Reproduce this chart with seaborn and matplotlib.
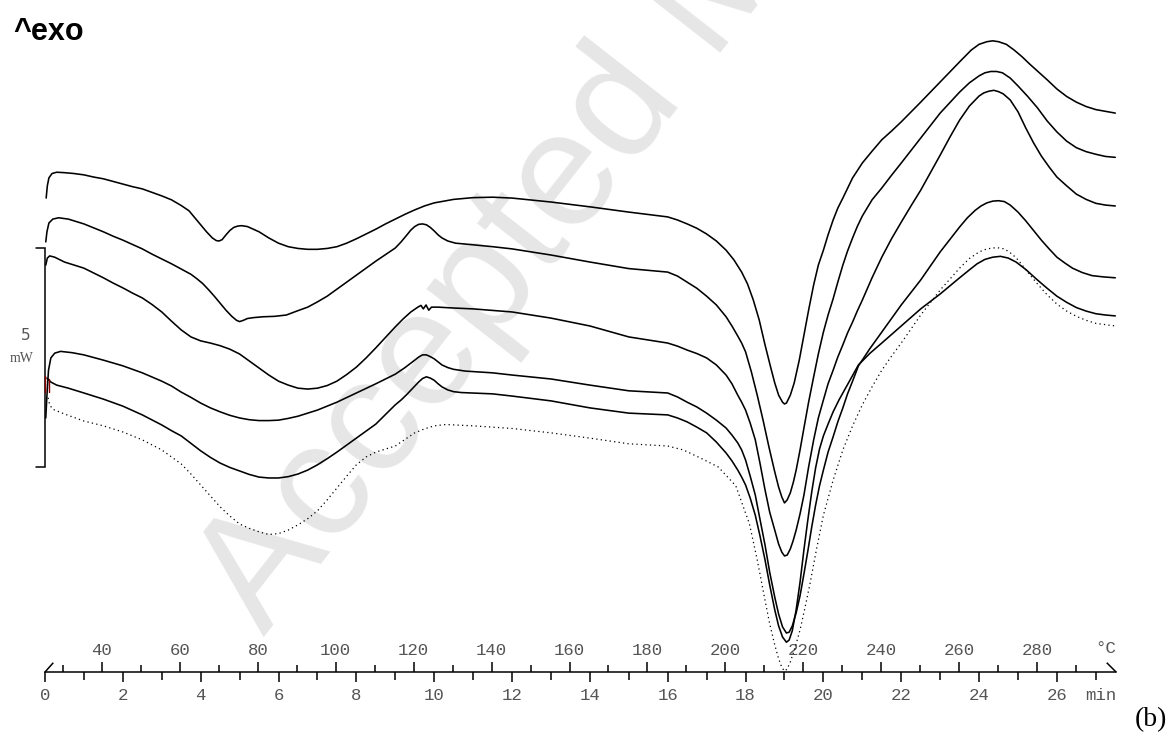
import numpy as np
import pandas as pd
import matplotlib
matplotlib.use("Agg")
import matplotlib.pyplot as plt
from matplotlib.ticker import FixedLocator
import seaborn as sns

# ---------------------------------------------------------------- data
# DSC heat-flow traces (mW, stacked with offsets) against time (min)
t_1 = [0.03, 0.06, 0.10, 0.18, 0.30, 0.50, 0.75, 1.0, 1.25, 1.5, 1.75, 2.0, 2.25, 2.5,
       2.75, 3.0, 3.25, 3.5, 3.7, 3.85, 4.0, 4.15, 4.3, 4.4, 4.47, 4.55, 4.65, 4.75,
       4.85, 4.95, 5.05, 5.2, 5.35, 5.5, 5.75, 6.0, 6.25, 6.5, 6.75, 7.0, 7.25, 7.5,
       7.75, 8.0, 8.25, 8.5, 8.75, 9.0, 9.25, 9.5, 9.75, 10.0, 10.25, 10.5, 11.0,
       11.5, 12.0, 13.0, 14.0, 15.0, 16.0, 16.25, 16.5, 16.75, 17.0, 17.25, 17.5,
       17.7, 17.9, 18.05, 18.2, 18.35, 18.5, 18.65, 18.75, 18.85, 18.95, 19.0, 19.05,
       19.15, 19.25, 19.38, 19.5, 19.62, 19.75, 19.87, 20.0, 20.12, 20.25, 20.37,
       20.5, 20.75, 21.0, 21.25, 21.5, 21.75, 22.0, 22.5, 23.0, 23.5, 23.8, 24.0,
       24.2, 24.35, 24.5, 24.7, 24.9, 25.1, 25.3, 25.5, 25.75, 26.0, 26.25, 26.5,
       26.75, 27.0, 27.25, 27.5]
hf_1 = [10.82, 11.10, 11.28, 11.38, 11.41, 11.40, 11.38, 11.35, 11.30, 11.26, 11.20,
        11.14, 11.08, 11.03, 10.95, 10.87, 10.78, 10.65, 10.53, 10.37, 10.21, 10.05,
        9.91, 9.85, 9.84, 9.87, 9.98, 10.08, 10.15, 10.18, 10.19, 10.17, 10.11, 10.05,
        9.91, 9.79, 9.71, 9.67, 9.65, 9.65, 9.67, 9.71, 9.79, 9.89, 10.00, 10.11,
        10.23, 10.34, 10.45, 10.55, 10.64, 10.71, 10.75, 10.79, 10.83, 10.84, 10.82,
        10.73, 10.62, 10.50, 10.39, 10.32, 10.23, 10.13, 10.00, 9.84, 9.63, 9.41,
        9.13, 8.86, 8.49, 8.04, 7.47, 6.94, 6.60, 6.32, 6.16, 6.12, 6.14, 6.32, 6.60,
        7.12, 7.69, 8.26, 8.84, 9.29, 9.63, 9.98, 10.32, 10.59, 10.82, 11.28, 11.62,
        11.89, 12.15, 12.35, 12.56, 13.01, 13.47, 13.93, 14.20, 14.33, 14.39, 14.41,
        14.39, 14.33, 14.20, 14.05, 13.88, 13.72, 13.52, 13.31, 13.14, 13.01, 12.91,
        12.84, 12.80, 12.76]

t_2 = [0.02, 0.05, 0.10, 0.20, 0.35, 0.60, 1.0, 1.25, 1.5, 1.75, 2.0, 2.25, 2.5, 2.75,
       3.0, 3.25, 3.5, 3.75, 3.9, 4.05, 4.2, 4.35, 4.5, 4.65, 4.8, 4.92, 5.0, 5.1,
       5.2, 5.35, 5.6, 5.9, 6.2, 6.5, 6.75, 7.0, 7.25, 7.5, 7.75, 8.0, 8.25, 8.5,
       8.75, 9.0, 9.15, 9.3, 9.4, 9.5, 9.6, 9.7, 9.8, 9.9, 10.0, 10.1, 10.2, 10.35,
       10.55, 10.8, 11.5, 12.0, 13.0, 14.0, 15.0, 16.0, 16.25, 16.5, 16.75, 17.0,
       17.25, 17.5, 17.65, 17.8, 17.9, 18.0, 18.15, 18.3, 18.45, 18.6, 18.75, 18.85,
       18.93, 19.0, 19.07, 19.15, 19.23, 19.3, 19.4, 19.5, 19.62, 19.75, 19.87, 20.0,
       20.12, 20.25, 20.37, 20.5, 20.62, 20.75, 20.87, 21.0, 21.25, 21.5, 21.75, 22.0,
       22.5, 23.0, 23.5, 23.75, 24.0, 24.15, 24.3, 24.45, 24.6, 24.8, 25.0, 25.25,
       25.5, 25.75, 26.0, 26.25, 26.5, 26.75, 27.0, 27.25, 27.5]
hf_2 = [9.82, 10.05, 10.25, 10.34, 10.37, 10.34, 10.23, 10.14, 10.05, 9.95, 9.86, 9.76,
        9.66, 9.54, 9.43, 9.32, 9.20, 9.08, 8.98, 8.87, 8.73, 8.58, 8.42, 8.26, 8.12,
        8.03, 8.00, 8.03, 8.07, 8.09, 8.11, 8.12, 8.15, 8.25, 8.33, 8.45, 8.58, 8.74,
        8.90, 9.06, 9.22, 9.38, 9.53, 9.68, 9.82, 9.98, 10.09, 10.17, 10.22, 10.23,
        10.21, 10.15, 10.07, 9.98, 9.91, 9.84, 9.79, 9.77, 9.71, 9.66, 9.52, 9.36,
        9.21, 9.13, 9.04, 8.90, 8.76, 8.58, 8.38, 8.11, 7.90, 7.67, 7.51, 7.31, 6.85,
        6.32, 5.75, 5.14, 4.57, 4.22, 4.00, 3.86, 3.93, 4.09, 4.34, 4.61, 5.07, 5.57,
        6.16, 6.74, 7.26, 7.76, 8.15, 8.52, 8.90, 9.29, 9.61, 9.91, 10.17, 10.41,
        10.78, 11.05, 11.34, 11.62, 12.19, 12.76, 13.24, 13.45, 13.61, 13.68, 13.71,
        13.71, 13.68, 13.56, 13.38, 13.14, 12.88, 12.58, 12.33, 12.12, 11.97, 11.88,
        11.82, 11.77, 11.75]

t_3 = [0.02, 0.06, 0.12, 0.25, 0.5, 0.75, 1.0, 1.25, 1.5, 1.75, 2.0, 2.25, 2.5, 2.75,
       3.0, 3.25, 3.5, 3.75, 4.0, 4.25, 4.5, 4.75, 5.0, 5.25, 5.5, 5.75, 6.0, 6.25,
       6.5, 6.75, 7.0, 7.25, 7.5, 7.75, 8.0, 8.25, 8.5, 8.75, 9.0, 9.2, 9.4, 9.58,
       9.66, 9.72, 9.79, 9.86, 9.93, 10.1, 10.5, 11.0, 12.0, 13.0, 14.0, 15.0, 16.0,
       16.25, 16.5, 16.75, 17.0, 17.25, 17.5, 17.65, 17.8, 17.9, 18.0, 18.12, 18.25,
       18.37, 18.5, 18.62, 18.75, 18.85, 18.93, 19.0, 19.07, 19.15, 19.22, 19.3,
       19.4, 19.5, 19.62, 19.75, 19.87, 20.0, 20.12, 20.25, 20.37, 20.5, 20.62,
       20.75, 20.87, 21.0, 21.25, 21.5, 21.75, 22.0, 22.25, 22.5, 22.75, 23.0, 23.25,
       23.5, 23.75, 24.0, 24.12, 24.25, 24.38, 24.5, 24.62, 24.8, 25.0, 25.2, 25.4,
       25.6, 25.8, 26.0, 26.25, 26.5, 26.75, 27.0, 27.25, 27.5]
hf_3 = [9.29, 9.45, 9.50, 9.47, 9.36, 9.29, 9.22, 9.11, 9.00, 8.88, 8.77, 8.65, 8.54,
        8.39, 8.22, 8.01, 7.81, 7.65, 7.56, 7.51, 7.45, 7.37, 7.26, 7.10, 6.94, 6.78,
        6.64, 6.55, 6.48, 6.46, 6.48, 6.54, 6.64, 6.79, 6.96, 7.17, 7.40, 7.64, 7.88,
        8.06, 8.22, 8.33, 8.37, 8.29, 8.38, 8.26, 8.33, 8.33, 8.31, 8.29, 8.22, 8.08,
        7.90, 7.65, 7.51, 7.44, 7.35, 7.27, 7.17, 7.01, 6.78, 6.58, 6.32, 6.16, 5.98,
        5.68, 5.30, 4.77, 4.16, 3.65, 3.24, 2.92, 2.74, 2.65, 2.67, 2.81, 2.99, 3.24,
        3.61, 4.04, 4.68, 5.30, 5.80, 6.21, 6.58, 6.89, 7.19, 7.47, 7.74, 7.99, 8.24,
        8.49, 9.00, 9.47, 9.89, 10.27, 10.64, 11.00, 11.40, 11.80, 12.21, 12.60, 12.92,
        13.15, 13.22, 13.26, 13.28, 13.25, 13.20, 13.06, 12.79, 12.42, 12.08, 11.78,
        11.53, 11.30, 11.10, 10.91, 10.79, 10.70, 10.66, 10.64]

t_4 = [0.02, 0.05, 0.09, 0.15, 0.25, 0.4, 0.7, 1.0, 1.5, 2.0, 2.5, 3.0, 3.25, 3.5,
       3.75, 4.0, 4.25, 4.5, 4.75, 5.0, 5.25, 5.5, 5.75, 6.0, 6.25, 6.5, 6.75, 7.0,
       7.5, 8.0, 8.5, 9.0, 9.25, 9.5, 9.6, 9.7, 9.8, 9.9, 10.0, 10.1, 10.2, 10.35,
       10.5, 10.8, 11.5, 12.0, 13.0, 14.0, 15.0, 16.0, 16.25, 16.5, 16.75, 17.0,
       17.25, 17.5, 17.65, 17.8, 17.9, 18.0, 18.12, 18.25, 18.37, 18.5, 18.62, 18.75,
       18.85, 18.95, 19.05, 19.12, 19.2, 19.3, 19.4, 19.5, 19.6, 19.7, 19.8, 19.9,
       20.0, 20.12, 20.25, 20.37, 20.5, 20.62, 20.75, 20.9, 21.05, 21.2, 21.5, 22.0,
       22.5, 23.0, 23.5, 23.7, 23.9, 24.05, 24.2, 24.35, 24.5, 24.65, 24.8, 25.0,
       25.2, 25.4, 25.6, 25.8, 26.0, 26.2, 26.4, 26.65, 26.9, 27.2, 27.5]
hf_4 = [5.80, 6.32, 6.89, 7.17, 7.28, 7.32, 7.29, 7.24, 7.12, 6.99, 6.83, 6.64, 6.53,
        6.39, 6.27, 6.14, 6.03, 5.94, 5.86, 5.80, 5.76, 5.74, 5.74, 5.75, 5.79, 5.84,
        5.91, 5.98, 6.16, 6.37, 6.58, 6.80, 6.95, 7.12, 7.19, 7.24, 7.24, 7.20, 7.15,
        7.08, 7.01, 6.95, 6.91, 6.87, 6.83, 6.78, 6.69, 6.55, 6.42, 6.37, 6.28, 6.16,
        6.05, 5.91, 5.75, 5.57, 5.41, 5.23, 5.07, 4.84, 4.47, 4.04, 3.49, 2.90, 2.28,
        1.71, 1.32, 1.03, 0.89, 0.91, 1.05, 1.35, 1.74, 2.24, 2.76, 3.31, 3.81, 4.25,
        4.61, 5.02, 5.37, 5.71, 6.03, 6.35, 6.64, 6.99, 7.19, 7.39, 7.76, 8.38, 8.95,
        9.59, 10.16, 10.37, 10.54, 10.64, 10.71, 10.75, 10.76, 10.74, 10.66, 10.50,
        10.30, 10.08, 9.86, 9.66, 9.47, 9.34, 9.22, 9.12, 9.05, 9.02, 9.00]

t_5 = [0.05, 0.15, 0.3, 0.6, 1.0, 1.5, 2.0, 2.5, 3.0, 3.25, 3.5, 3.75, 4.0, 4.25, 4.5,
       4.75, 5.0, 5.25, 5.5, 5.75, 6.0, 6.25, 6.5, 6.75, 7.0, 7.25, 7.5, 8.0, 8.5,
       9.0, 9.15, 9.3, 9.45, 9.6, 9.7, 9.8, 9.9, 10.0, 10.1, 10.2, 10.35, 10.5, 10.7,
       11.5, 12.0, 13.0, 14.0, 15.0, 16.0, 16.25, 16.5, 16.75, 17.0, 17.25, 17.5,
       17.65, 17.8, 17.9, 18.0, 18.12, 18.25, 18.37, 18.5, 18.62, 18.75, 18.85, 18.95,
       19.05, 19.12, 19.2, 19.3, 19.4, 19.5, 19.6, 19.7, 19.8, 19.9, 20.0, 20.12,
       20.25, 20.4, 20.6, 20.75, 20.9, 21.2, 21.5, 22.0, 22.5, 23.0, 23.5, 23.75,
       23.95, 24.15, 24.35, 24.55, 24.75, 24.95, 25.2, 25.5, 25.75, 26.0, 26.25, 26.5,
       26.75, 27.0, 27.25, 27.5]
hf_5 = [6.71, 6.62, 6.55, 6.48, 6.37, 6.23, 6.07, 5.87, 5.64, 5.51, 5.39, 5.22, 5.05,
        4.90, 4.77, 4.67, 4.59, 4.51, 4.45, 4.43, 4.43, 4.46, 4.52, 4.61, 4.73, 4.87,
        5.02, 5.34, 5.66, 6.10, 6.21, 6.34, 6.48, 6.62, 6.70, 6.74, 6.71, 6.66, 6.58,
        6.51, 6.44, 6.40, 6.38, 6.35, 6.30, 6.19, 6.03, 5.91, 5.87, 5.80, 5.71, 5.59,
        5.46, 5.25, 5.00, 4.82, 4.61, 4.45, 4.27, 3.97, 3.58, 3.11, 2.56, 1.99, 1.42,
        1.05, 0.80, 0.68, 0.73, 0.94, 1.42, 2.05, 2.79, 3.47, 4.11, 4.66, 5.09, 5.39,
        5.66, 5.94, 6.21, 6.53, 6.77, 7.01, 7.28, 7.51, 7.90, 8.29, 8.63, 9.00, 9.18,
        9.32, 9.42, 9.47, 9.49, 9.45, 9.36, 9.19, 8.95, 8.76, 8.58, 8.44, 8.32, 8.24,
        8.18, 8.15, 8.13]

t_ref = [0.08, 0.12, 0.2, 0.5, 1.0, 1.5, 2.0, 2.5, 3.0, 3.5, 3.75, 4.0, 4.25, 4.5, 4.75,
         5.0, 5.25, 5.5, 5.75, 6.0, 6.25, 6.5, 6.75, 7.0, 7.25, 7.5, 7.75, 8.0, 8.25,
         8.5, 9.0, 9.5, 9.75, 10.0, 10.3, 11.0, 12.0, 13.0, 14.0, 15.0, 16.0, 16.4,
         16.9, 17.3, 17.75, 18.1, 18.3, 18.5, 18.62, 18.75, 18.85, 18.93, 19.0, 19.07,
         19.15, 19.27, 19.4, 19.52, 19.65, 19.82, 20.0, 20.25, 20.5, 20.75, 21.0,
         21.25, 21.5, 21.75, 22.0, 22.5, 23.0, 23.5, 23.75, 24.0, 24.2, 24.45, 24.65,
         24.85, 25.0, 25.25, 25.5, 25.75, 26.0, 26.25, 26.5, 26.75, 27.0, 27.5]
hf_ref = [6.26, 6.10, 6.00, 5.89, 5.73, 5.62, 5.48, 5.30, 5.07, 4.75, 4.52, 4.27, 4.02,
          3.77, 3.56, 3.38, 3.28, 3.20, 3.14, 3.16, 3.24, 3.36, 3.50, 3.68, 3.93, 4.20,
          4.47, 4.73, 4.91, 5.02, 5.16, 5.46, 5.55, 5.62, 5.65, 5.62, 5.56, 5.46, 5.34,
          5.21, 5.16, 5.07, 4.86, 4.68, 4.25, 3.38, 2.56, 1.64, 1.10, 0.62, 0.30, 0.11,
          0.02, 0.07, 0.23, 0.55, 0.96, 1.44, 1.99, 2.79, 3.58, 4.38, 5.07, 5.62, 6.10,
          6.51, 6.89, 7.21, 7.51, 8.15, 8.72, 9.22, 9.44, 9.59, 9.66, 9.69, 9.66, 9.54,
          9.41, 9.13, 8.86, 8.61, 8.40, 8.24, 8.12, 8.03, 7.96, 7.90]

# time axis ticks (min) and temperature axis ticks (°C)
time_major = list(range(0, 27, 2))
time_minor = list(range(1, 28, 2))
temp_major = list(range(40, 281, 20))
temp_minor = list(range(30, 291, 20))

T_START = 25.37      # °C at t = 0
RATE = 9.99          # heating rate, K/min
T_END = 27.52        # end of the time axis, min
SCALE_MW = 5.0       # length of the heat-flow scale bar
SCALE_BASE = 4.69    # heat flow at the foot of the scale bar

# ---------------------------------------------------------------- style
sns.set_theme(style="ticks")
plt.rcParams["font.family"] = ["Liberation Sans", "DejaVu Sans"]

fig = plt.figure(figsize=(11.72, 7.35), dpi=100)
ax = fig.add_axes([0, 0, 1, 1])
ax.set_facecolor("white")
ax.set_xlim(-1.1562, 28.957)
ax.set_ylim(-1.438, 15.342)

# faint background stamp
ax.text(5.63, 0.80, "Accepted Manuscript", rotation=52, rotation_mode="anchor",
        ha="left", va="baseline", fontsize=118, color="#e6e6e6",
        family="Liberation Sans", zorder=0.5, clip_on=False)

# ---------------------------------------------------------------- curves
solid = [(t_1, hf_1), (t_2, hf_2), (t_3, hf_3), (t_4, hf_4), (t_5, hf_5)]
for tt, hh in solid:
    df = pd.DataFrame({"time": tt, "heat_flow": hh})
    sns.lineplot(data=df, x="time", y="heat_flow", ax=ax, color="black",
                 linewidth=1.15, estimator=None, sort=False, legend=False, zorder=3)

df_ref = pd.DataFrame({"time": t_ref, "heat_flow": hf_ref})
sns.lineplot(data=df_ref, x="time", y="heat_flow", ax=ax, color="black",
             linewidth=0.9, linestyle=(0, (1, 2.6)), estimator=None, sort=False,
             legend=False, zorder=3)

# ---------------------------------------------------------------- time axis
for side in ["left", "right", "top"]:
    ax.spines[side].set_visible(False)
ax.spines["bottom"].set_position(("data", 0))
ax.spines["bottom"].set_bounds(0, T_END)
ax.spines["bottom"].set_linewidth(1.1)
ax.spines["bottom"].set_color("black")
ax.set_yticks([])
ax.set_xticks(time_major)
ax.set_xticklabels([str(v) for v in time_major])
ax.xaxis.set_minor_locator(FixedLocator(time_minor))
ax.tick_params(axis="x", which="major", direction="out", length=7.2, width=1.1,
               color="black", labelcolor="#555555", labelsize=12.5, pad=4.5,
               labelfontfamily="Liberation Mono")
ax.tick_params(axis="x", which="minor", direction="out", length=5.4, width=1.1,
               color="black")
ax.set_xlabel("")
ax.set_ylabel("")

# end marks of the axis line
ax.plot([0, 0.213], [0, 0.212], color="black", lw=1.1, solid_capstyle="butt")
ax.plot([27.28, T_END], [0.212, 0], color="black", lw=1.1, solid_capstyle="butt")

# ---------------------------------------------------------------- temperature axis
yl = ax.get_ylim()
pos = (0 - yl[0]) / (yl[1] - yl[0])
sec = ax.secondary_xaxis("top", functions=(lambda t: T_START + RATE * t,
                                           lambda T: (T - T_START) / RATE))
sec.set_location(pos)
sec.spines["top"].set_visible(False)
sec.set_xticks(temp_major)
sec.set_xticklabels([str(v) for v in temp_major])
sec.xaxis.set_minor_locator(FixedLocator(temp_minor))
sec.tick_params(axis="x", which="major", direction="out", length=7.2, width=1.1,
                color="black", labelcolor="#555555", labelsize=12.5, pad=3.0,
                labelfontfamily="Liberation Mono")
sec.tick_params(axis="x", which="minor", direction="out", length=5.4, width=1.1,
                color="black")

ax.text(T_END, 0.43, "°C", ha="right", va="baseline", fontsize=12.5,
        color="#555555", family="Liberation Mono")
ax.text(T_END, -0.64, "min", ha="right", va="baseline", fontsize=12.5,
        color="#555555", family="Liberation Mono")

# ---------------------------------------------------------------- scale bar
top = SCALE_BASE + SCALE_MW
ax.plot([-0.24, 0, 0, -0.24], [top, top, SCALE_BASE, SCALE_BASE], color="black",
        lw=1.1, solid_joinstyle="miter", zorder=2)
ax.plot([0.0, 0.0], [6.75, 6.40], color="#8b0000", lw=1.0, zorder=4)
ax.plot([0.10, 0.10], [6.70, 6.40], color="#8b0000", lw=1.0, zorder=4)
ax.text(-0.49, 7.69, "5", ha="center", va="center", fontsize=11, color="#555555",
        family="DejaVu Sans")
ax.text(-0.59, 7.15, "mW", ha="center", va="center", fontsize=10, color="#555555",
        family="Liberation Serif")

# ---------------------------------------------------------------- labels
fig.text(13 / 1172, 1 - 40 / 735, "^exo", ha="left", va="baseline", fontsize=22,
         fontweight="bold", family="Liberation Sans", color="black")
fig.text(1151 / 1172, 15 / 735, "(b)", ha="center", va="center",
         fontsize=20, family="Liberation Serif", color="black")

fig.savefig("out.png", dpi=100, facecolor="white")
